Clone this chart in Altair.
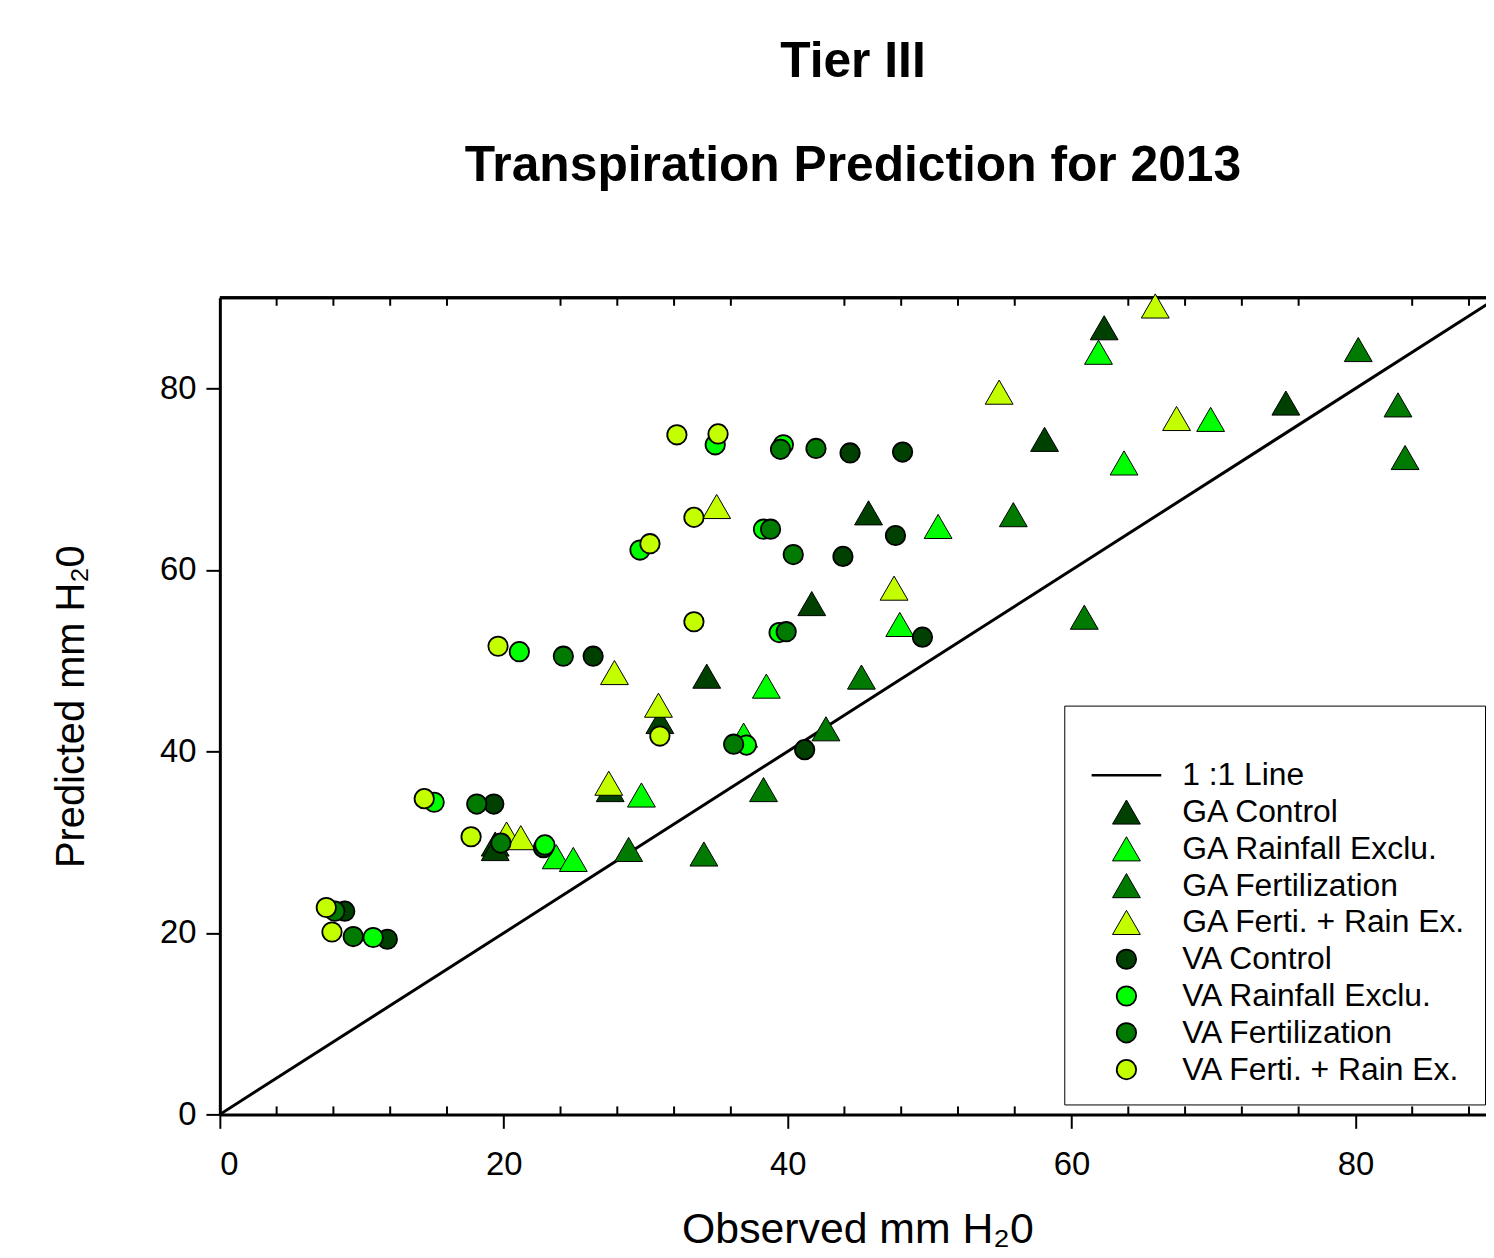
import altair as alt
import pandas as pd

LINE_LABEL = "1 :1 Line"
series_names = ["GA Control", "GA Rainfall Exclu.", "GA Fertilization", "GA Ferti. + Rain Ex.",
                "VA Control", "VA Rainfall Exclu.", "VA Fertilization", "VA Ferti. + Rain Ex."]

ga_control_x = [62.3, 75.1, 58.1, 45.7, 41.7, 34.3, 31.0, 27.5, 19.4, 19.4]
ga_control_y = [86.7, 78.4, 74.4, 66.3, 56.3, 48.3, 43.3, 35.8, 29.8, 29.3]
ga_rain_x = [61.9, 69.8, 63.7, 50.6, 47.9, 38.5, 36.9, 29.7, 23.7, 24.9]
ga_rain_y = [84.0, 76.6, 71.8, 64.8, 54.0, 47.2, 41.8, 35.2, 28.4, 28.1]
ga_fert_x = [80.2, 83.0, 83.5, 55.9, 60.9, 45.2, 42.7, 38.3, 34.1, 28.8]
ga_fert_y = [84.3, 78.2, 72.4, 66.1, 54.8, 48.2, 42.5, 35.8, 28.7, 29.2]
ga_ferain_x = [65.9, 54.9, 67.4, 35.0, 47.5, 27.8, 30.9, 27.4, 20.2, 21.2]
ga_ferain_y = [89.1, 79.6, 76.7, 67.0, 58.0, 48.7, 45.1, 36.5, 30.9, 30.5]

va_control_x = [48.1, 44.4, 47.6, 43.9, 49.5, 26.3, 41.2, 19.3, 22.8, 8.8, 11.8]
va_control_y = [73.0, 72.9, 63.8, 61.5, 52.6, 50.5, 40.2, 34.2, 29.4, 22.4, 19.3]
va_rain_x = [34.9, 39.7, 29.6, 38.3, 39.4, 37.1, 21.1, 15.1, 22.9, 10.8]
va_rain_y = [73.8, 73.8, 62.2, 64.5, 53.1, 40.7, 51.0, 34.4, 29.7, 19.5]
va_fert_x = [39.5, 42.0, 38.8, 40.4, 39.9, 36.2, 24.2, 18.1, 19.8, 8.1, 9.4]
va_fert_y = [73.3, 73.4, 64.5, 61.7, 53.2, 40.8, 50.5, 34.2, 29.9, 22.4, 19.6]
va_ferain_x = [32.2, 35.1, 33.4, 30.3, 33.4, 31.0, 19.6, 14.4, 17.7, 7.5, 7.9]
va_ferain_y = [74.9, 75.0, 65.8, 62.9, 54.3, 41.7, 51.6, 34.8, 30.6, 22.8, 20.1]

x_ticks = [0, 20, 40, 60, 80]
y_ticks = [0, 20, 40, 60, 80]
minor_x = [4, 8, 12, 16, 24, 28, 32, 36, 44, 48, 52, 56, 64, 68, 72, 76, 84, 88]
x_domain = [0, 89.2]
y_domain = [0, 90]
diag = [0, 90]

colors = ["#004000", "#00ff00", "#007a00", "#c4ff00"] * 2

series_data = [
    (ga_control_x, ga_control_y), (ga_rain_x, ga_rain_y), (ga_fert_x, ga_fert_y), (ga_ferain_x, ga_ferain_y),
    (va_control_x, va_control_y), (va_rain_x, va_rain_y), (va_fert_x, va_fert_y), (va_ferain_x, va_ferain_y),
]
rows = []
for name, (xs, ys) in zip(series_names, series_data):
    for xv, yv in zip(xs, ys):
        rows.append({"series": name, "obs": xv, "pred": yv})
pts = pd.DataFrame(rows)
diag_df = pd.DataFrame({"v": diag})
minor_df = pd.DataFrame({"t": minor_x})

X_TITLE = "Observed mm H₂0"
Y_TITLE = "Predicted mm H₂0"
FONT = "Liberation Sans"

xscale = alt.Scale(domain=x_domain, nice=False, zero=False)
yscale = alt.Scale(domain=y_domain, nice=False, zero=False)

xaxis = alt.Axis(values=x_ticks, format="d", tickSize=14, tickWidth=2, tickColor="black",
                 domainColor="black", domainWidth=3, labelFontSize=33, labelColor="black",
                 labelFont=FONT, titleFont=FONT, titleFontSize=43, titleFontWeight="normal",
                 titleColor="black", labelPadding=20, titlePadding=28, grid=False, titleX=641)
yaxis = alt.Axis(values=y_ticks, format="d", tickSize=14, tickWidth=2, tickColor="black",
                 domainColor="black", domainWidth=3, labelFontSize=33, labelColor="black",
                 labelFont=FONT, titleFont=FONT, titleFontSize=40, titleFontWeight="normal",
                 titleColor="black", labelPadding=10, titlePadding=68, grid=False)

legend_domain = [LINE_LABEL] + series_names
fill_range = ["transparent"] + colors
stroke_range = ["black"] * 9
shape_range = ["M-2.5,0L2.5,0"] + ["triangle-up"] * 4 + ["circle"] * 4
size_range = [784] + [784] * 4 + [380] * 4
sw_range = [2.5] + [1] * 4 + [1.8] * 4

legend = alt.Legend(title=" ", symbolStrokeColor="black")

line = alt.Chart(diag_df).mark_line(color="black", strokeWidth=3, clip=True).encode(
    x=alt.X("v:Q", scale=xscale, axis=xaxis, title=X_TITLE),
    y=alt.Y("v:Q", scale=yscale, axis=yaxis, title=Y_TITLE),
)

top_border = alt.Chart(diag_df).mark_rule(color="black", strokeWidth=3).encode(
    y=alt.YDatum(y_domain[1], scale=yscale, axis=yaxis, title=Y_TITLE),
)

minor_bottom = alt.Chart(minor_df).mark_rule(color="black", strokeWidth=2).encode(
    x=alt.X("t:Q", scale=xscale, axis=xaxis, title=X_TITLE),
    y=alt.value(821), y2=alt.value(813),
)
minor_top = alt.Chart(minor_df).mark_rule(color="black", strokeWidth=2).encode(
    x=alt.X("t:Q", scale=xscale, axis=xaxis, title=X_TITLE),
    y=alt.value(0), y2=alt.value(8),
)

points = alt.Chart(pts).mark_point(filled=True, opacity=1).encode(
    x=alt.X("obs:Q", scale=xscale, axis=xaxis, title=X_TITLE),
    y=alt.Y("pred:Q", scale=yscale, axis=yaxis, title=Y_TITLE),
    fill=alt.Fill("series:N", title=" ", legend=legend,
                  scale=alt.Scale(domain=legend_domain, range=fill_range)),
    stroke=alt.Stroke("series:N", title=" ", legend=legend,
                      scale=alt.Scale(domain=legend_domain, range=stroke_range)),
    shape=alt.Shape("series:N", title=" ", legend=legend,
                    scale=alt.Scale(domain=legend_domain, range=shape_range)),
    size=alt.Size("series:N", title=" ", legend=legend,
                  scale=alt.Scale(type="ordinal", domain=legend_domain, range=size_range)),
    strokeWidth=alt.StrokeWidth("series:N", title=" ", legend=legend,
                                scale=alt.Scale(type="ordinal", domain=legend_domain, range=sw_range)),
)

chart = alt.layer(line, minor_bottom, minor_top, top_border, points).properties(
    width=1273,
    height=821,
    autosize=alt.AutoSizeParams(type="none"),
    padding={"left": 213, "top": 288, "right": 0, "bottom": 140},
    title=alt.TitleParams(
        text=["Tier III", "Transpiration Prediction for 2013"],
        fontSize=50, fontWeight="bold", font=FONT, lineHeight=104, offset=102,
        color="black", anchor="middle", frame="group",
    ),
).configure_view(strokeWidth=0).configure(font=FONT).configure_legend(
    orient="none", legendX=849, legendY=410, padding=19, labelOffset=40, symbolOffset=27.5,
    rowPadding=5, labelFontSize=32, labelFont=FONT, labelColor="black", labelLimit=600,
    titleFontSize=24, titlePadding=11, strokeColor="black", fillColor="white",
    symbolStrokeColor="black",
)

chart.save("out.html", embed_options={"renderer": "svg", "actions": False})
